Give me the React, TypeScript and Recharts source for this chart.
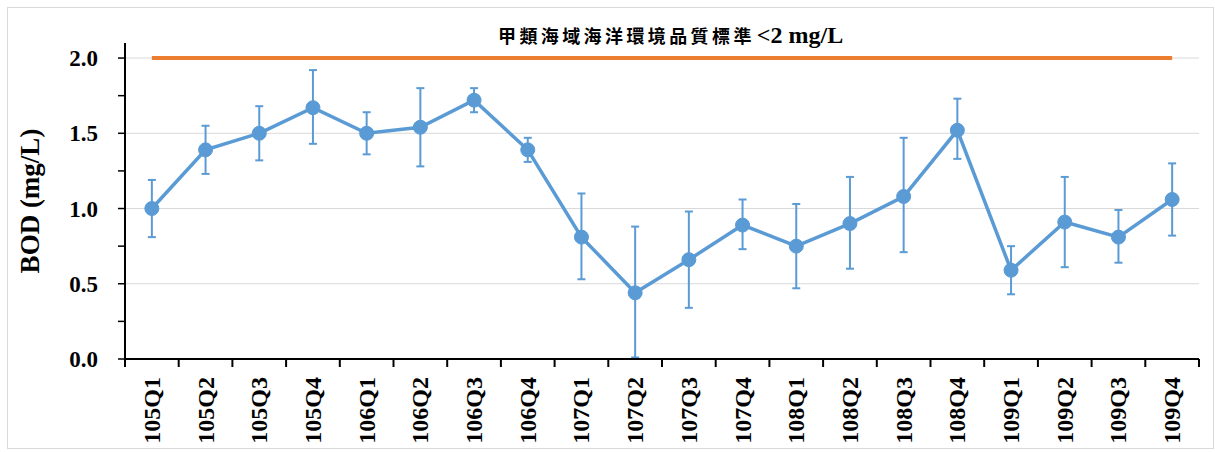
import { LineChart, Line, XAxis, YAxis, CartesianGrid, ErrorBar } from 'recharts'

const quarters = [
  '105Q1', '105Q2', '105Q3', '105Q4', '106Q1', '106Q2', '106Q3', '106Q4',
  '107Q1', '107Q2', '107Q3', '107Q4', '108Q1', '108Q2', '108Q3', '108Q4',
  '109Q1', '109Q2', '109Q3', '109Q4',
]
const bodMean = [
  1.0, 1.39, 1.5, 1.67, 1.5, 1.54, 1.72, 1.39,
  0.81, 0.44, 0.66, 0.89, 0.75, 0.9, 1.08, 1.52,
  0.59, 0.91, 0.81, 1.06,
]
const bodLow = [
  0.81, 1.23, 1.32, 1.43, 1.36, 1.28, 1.64, 1.31,
  0.53, 0.01, 0.34, 0.73, 0.47, 0.6, 0.71, 1.33,
  0.43, 0.61, 0.64, 0.82,
]
const bodHigh = [
  1.19, 1.55, 1.68, 1.92, 1.64, 1.8, 1.8, 1.47,
  1.1, 0.88, 0.98, 1.06, 1.03, 1.21, 1.47, 1.73,
  0.75, 1.21, 0.99, 1.3,
]
const standardValue = 2
const yTicks = [0, 0.25, 0.5, 0.75, 1, 1.25, 1.5, 1.75, 2]
const gridValues = [0.5, 1, 1.5, 2]
const standardLabel = '甲類海域海洋環境品質標準'
const standardUnit = '<2 mg/L'

const data = quarters.map((q, i) => ({
  name: q,
  bod: bodMean[i],
  err: [bodMean[i] - bodLow[i], bodHigh[i] - bodMean[i]],
  standard: standardValue,
}))

const W = 1215
const H = 452
const LEFT = 125
const RIGHT = 16
const TOP = 43
const XAXIS_H = 93
const BAND = (W - LEFT - RIGHT) / quarters.length
const SERIF = '"Liberation Serif", "Times New Roman", serif'

// eslint-disable-next-line @typescript-eslint/no-explicit-any
function QuarterTick({ x, y, payload, index }: any) {
  return (
    <g>
      <line x1={x - BAND / 2} y1={y} x2={x - BAND / 2} y2={y + 8} stroke="#000" strokeWidth={2} />
      {index === quarters.length - 1 && (
        <line x1={x + BAND / 2} y1={y} x2={x + BAND / 2} y2={y + 8} stroke="#000" strokeWidth={2} />
      )}
      <text
        transform={`translate(${x + 8}, ${y + 18}) rotate(-90)`}
        textAnchor="end"
        fontFamily={SERIF}
        fontWeight="bold"
        fontSize={24}
        fill="#000"
      >
        {payload.value}
      </text>
    </g>
  )
}

export default function App() {
  return (
    <div style={{ position: 'absolute', left: 0, top: 0, width: W, height: H, background: '#fff' }}>
      <div
        style={{
          position: 'absolute',
          left: 7,
          top: 7,
          width: 1205,
          height: 440,
          border: '1px solid #d9d9d9',
        }}
      />
      <div
        style={{
          position: 'absolute',
          left: 0,
          top: 0,
          zIndex: 1,
        }}
      >
        <LineChart width={W} height={H} data={data} margin={{ top: TOP, right: RIGHT, left: 0, bottom: 0 }}>
          <CartesianGrid vertical={false} stroke="#d9d9d9" horizontalValues={gridValues} />
          <XAxis
            dataKey="name"
            height={XAXIS_H}
            padding={{ left: BAND / 2, right: BAND / 2 }}
            axisLine={{ stroke: '#000', strokeWidth: 2 }}
            tickLine={false}
            tickSize={0}
            tickMargin={0}
            interval={0}
            tick={<QuarterTick />}
          />
          <YAxis
            width={LEFT}
            domain={[0, 2.1]}
            ticks={yTicks}
            interval={0}
            axisLine={{ stroke: '#000', strokeWidth: 2 }}
            tickLine={{ stroke: '#000', strokeWidth: 1.5 }}
            tickSize={7}
            tickMargin={20}
            tickFormatter={(v: number) => (v % 0.5 === 0 ? v.toFixed(1) : '')}
            tick={{ fontFamily: SERIF, fontWeight: 'bold', fontSize: 23, fill: '#000' }}
            label={{
              value: 'BOD (mg/L)',
              angle: -90,
              position: 'insideLeft',
              dx: 24,
              dy: 0,
              style: { fontFamily: SERIF, fontWeight: 'bold', fontSize: 27, fill: '#000', textAnchor: 'middle' },
            }}
          />
          <Line
            dataKey="standard"
            stroke="#ED7D31"
            strokeWidth={4}
            dot={false}
            activeDot={false}
            isAnimationActive={false}
          />
          <Line
            dataKey="bod"
            stroke="#5B9BD5"
            strokeWidth={3.5}
            dot={{ r: 7, fill: '#5B9BD5', stroke: '#5B9BD5', strokeWidth: 1 }}
            activeDot={false}
            isAnimationActive={false}
          >
            <ErrorBar dataKey="err" direction="y" width={4} stroke="#5B9BD5" strokeWidth={2} />
          </Line>
        </LineChart>
      </div>
      <div
        style={{
          position: 'absolute',
          left: 498,
          top: 22,
          zIndex: 2,
          whiteSpace: 'nowrap',
          fontWeight: 'bold',
          color: '#000',
          display: 'flex',
          alignItems: 'baseline',
        }}
      >
        <span style={{ fontFamily: '"Noto Sans CJK TC", serif', fontSize: 18, letterSpacing: 3.4 }}>
          {standardLabel}
        </span>
        <span style={{ fontFamily: SERIF, fontSize: 24, marginLeft: 2 }}>{standardUnit}</span>
      </div>
    </div>
  )
}
